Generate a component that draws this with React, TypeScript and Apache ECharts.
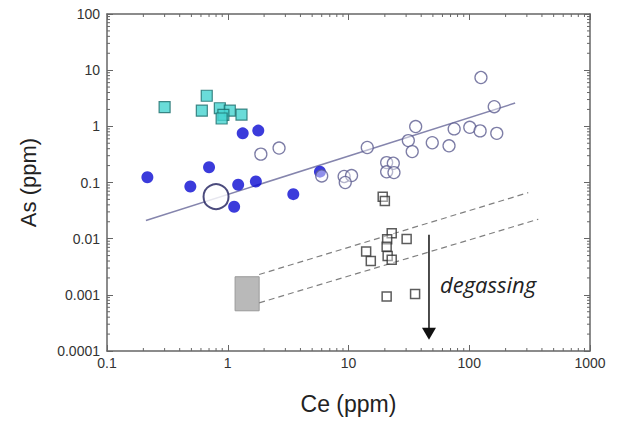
import React, { useEffect, useRef } from 'react';
import * as echarts from 'echarts';

// Axis ranges and tick labels
const xMin = 0.1;
const xMax = 1000;
const yMin = 0.0001;
const yMax = 100;
const xTickLabels = ['0.1', '1', '10', '100', '1000'];
const yTickLabels = ['0.0001', '0.001', '0.01', '0.1', '1', '10', '100'];
const xAxisName = 'Ce (ppm)';
const yAxisName = 'As (ppm)';
const annotationText = 'degassing';

// Series data: [Ce, As]
const cyanSquares = [
  [0.30, 2.2], [0.67, 3.5], [0.61, 1.9], [0.86, 2.1],
  [1.04, 1.9], [0.92, 1.6], [0.89, 1.38], [1.30, 1.62],
];
const blueDots = [
  [0.216, 0.124], [0.49, 0.085], [0.70, 0.187], [1.22, 0.091], [1.71, 0.104],
  [1.13, 0.037], [1.33, 0.75], [1.79, 0.84], [3.49, 0.062], [5.8, 0.156],
];
const bigCircle = [[0.80, 0.056]];
const openCircles = [
  [1.88, 0.32], [2.66, 0.41], [6.0, 0.131], [9.2, 0.128], [10.6, 0.133], [9.4, 0.10],
  [14.3, 0.42], [20.7, 0.226], [23.5, 0.22], [20.7, 0.155], [23.8, 0.15],
  [31.3, 0.557], [33.7, 0.355], [36, 0.99], [49.4, 0.51], [68, 0.45], [75, 0.90],
  [101, 0.96], [123, 0.83], [169, 0.75], [161, 2.24], [125, 7.4],
];
const openSquares = [
  [19.2, 0.056], [20, 0.047], [22.8, 0.0125], [30.3, 0.0099], [20.9, 0.0098],
  [20.7, 0.0072], [14.0, 0.0059], [15.3, 0.0040], [21.1, 0.0049], [22.8, 0.0042],
  [20.7, 0.00093], [35.6, 0.00103],
];
const trendLine = [[0.21, 0.021], [240, 2.6]];
const dashedUpper = [[1.82, 0.0023], [308, 0.066]];
const dashedLower = [[1.82, 0.00072], [373, 0.0222]];
const grayBox = [[1.15, 0.00052, 1.82, 0.0021]];
const arrow = [[46.4, 0.0117, 0.000158]];
const annotation = [[46.4, 0.00157]];

const decadeMinors = (min: number, max: number) => {
  const out: number[] = [];
  for (let d = min; d < max * 0.999; d *= 10) {
    for (let k = 2; k <= 9; k++) out.push(+(d * k).toPrecision(6));
  }
  return out;
};
const xMinorTicks = decadeMinors(xMin, xMax).map((v) => [v, yMin]);
const yMinorTicks = decadeMinors(yMin, yMax).map((v) => [xMin, v]);

const FONT = 'Liberation Sans, Arial, sans-serif';
const AXIS_COLOR = '#666';

const fmt = (labels: string[], min: number) => (v: number) => {
  const i = Math.round(Math.log10(v) - Math.log10(min));
  return labels[i] ?? '';
};

export default function App() {
  const ref = useRef<HTMLDivElement>(null);
  useEffect(() => {
    if (!ref.current) return;
    const chart = echarts.init(ref.current, undefined, { renderer: 'svg' });
    const baseAxis = {
      type: 'log' as const,
      logBase: 10,
      splitLine: { show: false },
      axisLine: { show: true, onZero: false, lineStyle: { color: AXIS_COLOR, width: 1.5 } },
      axisTick: { show: true, inside: true, length: 6, lineStyle: { color: AXIS_COLOR, width: 1 } },
    };
    chart.setOption({
      animation: false,
      backgroundColor: '#fff',
      grid: { left: 107, right: 28, top: 14, bottom: 72 },
      xAxis: [
        {
          ...baseAxis,
          min: xMin,
          max: xMax,
          position: 'bottom',
          axisLabel: { formatter: fmt(xTickLabels, xMin), color: '#333', fontSize: 14, margin: 5, fontFamily: FONT },
          name: xAxisName,
          nameLocation: 'middle',
          nameGap: 41,
          nameTextStyle: { fontSize: 23, color: '#222', fontFamily: FONT },
        },
        {
          ...baseAxis,
          min: xMin,
          max: xMax,
          position: 'top',
          axisLabel: { show: false },
        },
      ],
      yAxis: [
        {
          ...baseAxis,
          min: yMin,
          max: yMax,
          splitNumber: 6,
          position: 'left',
          axisLabel: { formatter: fmt(yTickLabels, yMin), color: '#333', fontSize: 14, margin: 7, fontFamily: FONT },
          name: yAxisName,
          nameLocation: 'middle',
          nameGap: 68,
          nameTextStyle: { fontSize: 22, color: '#222', fontFamily: FONT },
        },
        {
          ...baseAxis,
          min: yMin,
          max: yMax,
          splitNumber: 6,
          position: 'right',
          axisLabel: { show: false },
        },
      ],
      series: [
        {
          type: 'custom',
          silent: true,
          clip: false,
          z: 1,
          data: xMinorTicks,
          renderItem: (params: any, api: any) => {
            const v = api.value(0);
            const b = api.coord([v, yMin]);
            const t = api.coord([v, yMax]);
            const st = { stroke: AXIS_COLOR, lineWidth: 1 };
            return {
              type: 'group',
              children: [
                { type: 'line', shape: { x1: b[0], y1: b[1], x2: b[0], y2: b[1] - 3 }, style: st },
                { type: 'line', shape: { x1: t[0], y1: t[1], x2: t[0], y2: t[1] + 3 }, style: st },
              ],
            };
          },
        },
        {
          type: 'custom',
          silent: true,
          clip: false,
          z: 1,
          data: yMinorTicks,
          renderItem: (params: any, api: any) => {
            const v = api.value(1);
            const l = api.coord([xMin, v]);
            const r = api.coord([xMax, v]);
            const st = { stroke: AXIS_COLOR, lineWidth: 1 };
            return {
              type: 'group',
              children: [
                { type: 'line', shape: { x1: l[0], y1: l[1], x2: l[0] + 3, y2: l[1] }, style: st },
                { type: 'line', shape: { x1: r[0], y1: r[1], x2: r[0] - 3, y2: r[1] }, style: st },
              ],
            };
          },
        },
        {
          type: 'custom',
          silent: true,
          z: 1,
          data: grayBox,
          encode: { x: [0, 2], y: [1, 3] },
          renderItem: (params: any, api: any) => {
            const p0 = api.coord([api.value(0), api.value(3)]);
            const p1 = api.coord([api.value(2), api.value(1)]);
            return {
              type: 'rect',
              shape: { x: p0[0], y: p0[1], width: p1[0] - p0[0], height: p1[1] - p0[1] },
              style: { fill: '#b9b9b9', stroke: '#9a9a9a', lineWidth: 1 },
            };
          },
        },
        {
          type: 'line',
          data: dashedUpper,
          symbol: 'none',
          silent: true,
          z: 1,
          lineStyle: { color: '#808080', width: 1.2, type: [6, 4] },
        },
        {
          type: 'line',
          data: dashedLower,
          symbol: 'none',
          silent: true,
          z: 1,
          lineStyle: { color: '#808080', width: 1.2, type: [6, 4] },
        },
        {
          type: 'line',
          data: trendLine,
          symbol: 'none',
          silent: true,
          z: 1,
          lineStyle: { color: '#8585ad', width: 1.5 },
        },
        {
          type: 'scatter',
          data: cyanSquares,
          symbol: 'rect',
          symbolSize: 11,
          z: 3,
          itemStyle: { color: '#45d3cf', borderColor: '#1c6c6a', borderWidth: 1.2 },
        },
        {
          type: 'scatter',
          data: blueDots,
          symbol: 'circle',
          symbolSize: 12,
          z: 3,
          itemStyle: { color: '#0a0ad2' },
        },
        {
          type: 'scatter',
          data: bigCircle,
          symbol: 'circle',
          symbolSize: 25,
          z: 3,
          itemStyle: { color: '#ffffff', borderColor: '#1e1e5c', borderWidth: 2 },
        },
        {
          type: 'scatter',
          data: openCircles,
          symbol: 'circle',
          symbolSize: 12,
          z: 3,
          itemStyle: { color: 'rgba(255,255,255,0.55)', borderColor: '#5c5c90', borderWidth: 1.3 },
        },
        {
          type: 'scatter',
          data: openSquares,
          symbol: 'rect',
          symbolSize: 9,
          z: 3,
          itemStyle: { color: 'rgba(255,255,255,0.5)', borderColor: '#333333', borderWidth: 1.5 },
        },
        {
          type: 'custom',
          silent: true,
          clip: false,
          z: 4,
          data: arrow,
          encode: { x: 0, y: [1, 2] },
          renderItem: (params: any, api: any) => {
            const top = api.coord([api.value(0), api.value(1)]);
            const bot = api.coord([api.value(0), api.value(2)]);
            const hh = 12;
            const hw = 7;
            return {
              type: 'group',
              children: [
                { type: 'line', shape: { x1: top[0], y1: top[1], x2: bot[0], y2: bot[1] - hh + 1 }, style: { stroke: '#111', lineWidth: 1.5 } },
                {
                  type: 'polygon',
                  shape: { points: [[bot[0] - hw, bot[1] - hh], [bot[0] + hw, bot[1] - hh], [bot[0], bot[1]]] },
                  style: { fill: '#111' },
                },
              ],
            };
          },
        },
        {
          type: 'custom',
          silent: true,
          clip: false,
          z: 4,
          data: annotation,
          renderItem: (params: any, api: any) => {
            const p = api.coord([api.value(0), api.value(1)]);
            return {
              type: 'text',
              x: p[0] + 11,
              y: p[1],
              style: {
                text: annotationText,
                fill: '#222',
                fontSize: 22,
                fontStyle: 'italic',
                fontFamily: 'Open Sans, sans-serif',
                verticalAlign: 'middle',
                align: 'left',
              },
            };
          },
        },
      ],
    });
    return () => chart.dispose();
  }, []);
  return (
    <div
      ref={ref}
      style={{ position: 'fixed', left: 0, top: 0, width: 618, height: 423, background: '#fff' }}
    />
  );
}
